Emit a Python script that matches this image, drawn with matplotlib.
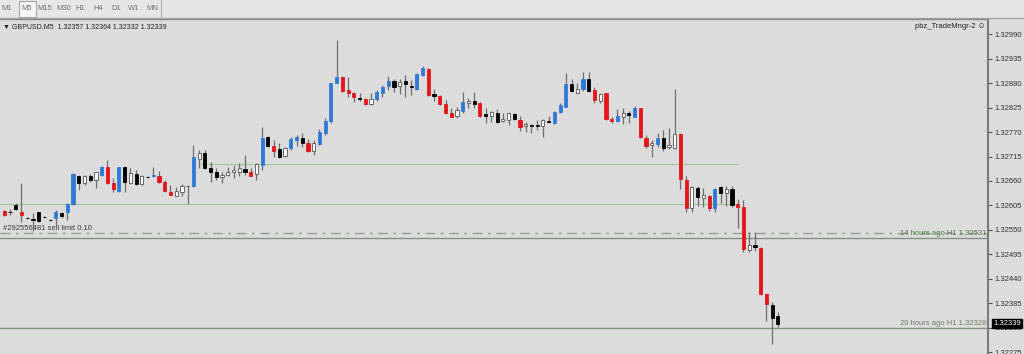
import numpy as np
import matplotlib.pyplot as plt
from matplotlib.patches import Rectangle

# GBPUSD M5 candles, prices in points (1.32593 -> 132593)
open_pts = [
    132593, 132591, 132606, 132589, 132576, 132574, 132590, 132579, 132572, 132577,
    132587, 132591, 132608, 132670, 132655, 132670, 132661, 132673, 132691, 132655,
    132638, 132692, 132656, 132675, 132653, 132668, 132670, 132670, 132658, 132636,
    132627, 132636, 132648, 132649, 132709, 132724, 132690, 132681, 132668, 132673,
    132679, 132681, 132686, 132679, 132675, 132696, 132758, 132739, 132732, 132716,
    132734, 132752, 132757, 132745, 132728, 132743, 132767, 132795, 132880, 132895,
    132865, 132859, 132847, 132844, 132833, 132844, 132859, 132874, 132886, 132874,
    132884, 132874, 132867, 132898, 132912, 132855, 132852, 132833, 132812, 132806,
    132817, 132835, 132840, 132836, 132811, 132806, 132812, 132796, 132797, 132811,
    132797, 132784, 132786, 132786, 132784, 132795, 132790, 132816, 132827, 132878,
    132859, 132866, 132889, 132865, 132840, 132857, 132799, 132796, 132803, 132812,
    132805, 132824, 132757, 132741, 132743, 132757, 132737, 132734, 132766, 132662,
    132598, 132645, 132622, 132626, 132598, 132646, 132632, 132641, 132608, 132602,
    132505, 132516, 132510, 132405, 132381, 132357]
high_pts = [
    132595, 132596, 132611, 132655, 132578, 132587, 132591, 132581, 132574, 132595,
    132591, 132610, 132677, 132673, 132673, 132675, 132681, 132694, 132706, 132666,
    132692, 132694, 132689, 132685, 132673, 132670, 132692, 132683, 132661, 132651,
    132647, 132653, 132651, 132741, 132730, 132730, 132703, 132689, 132681, 132692,
    132696, 132700, 132718, 132689, 132700, 132781, 132761, 132752, 132746, 132737,
    132758, 132763, 132769, 132754, 132752, 132776, 132801, 132881, 132977, 132896,
    132893, 132861, 132857, 132846, 132857, 132865, 132876, 132896, 132889, 132889,
    132898, 132887, 132904, 132919, 132914, 132866, 132853, 132842, 132824, 132827,
    132861, 132846, 132860, 132838, 132824, 132818, 132821, 132814, 132816, 132814,
    132806, 132793, 132788, 132797, 132799, 132806, 132817, 132835, 132902, 132889,
    132880, 132906, 132905, 132872, 132859, 132859, 132805, 132821, 132824, 132818,
    132829, 132825, 132763, 132752, 132767, 132775, 132780, 132868, 132767, 132670,
    132649, 132649, 132643, 132628, 132645, 132649, 132649, 132649, 132619, 132617,
    132546, 132546, 132512, 132407, 132388, 132364]
low_pts = [
    132582, 132583, 132595, 132568, 132574, 132547, 132568, 132577, 132570, 132561,
    132576, 132571, 132606, 132640, 132651, 132658, 132645, 132670, 132653, 132634,
    132636, 132636, 132653, 132651, 132651, 132666, 132668, 132655, 132636, 132628,
    132625, 132625, 132608, 132647, 132689, 132687, 132658, 132662, 132655, 132670,
    132666, 132670, 132673, 132670, 132662, 132685, 132736, 132713, 132711, 132713,
    132730, 132739, 132737, 132726, 132718, 132741, 132763, 132790, 132880, 132861,
    132850, 132838, 132841, 132831, 132831, 132841, 132850, 132865, 132861, 132856,
    132850, 132853, 132865, 132896, 132851, 132841, 132831, 132811, 132803, 132802,
    132814, 132824, 132824, 132805, 132790, 132793, 132791, 132793, 132786, 132797,
    132773, 132771, 132767, 132775, 132760, 132791, 132788, 132814, 132826, 132861,
    132857, 132863, 132861, 132835, 132836, 132797, 132790, 132793, 132788, 132791,
    132803, 132756, 132734, 132715, 132737, 132727, 132732, 132731, 132641, 132591,
    132589, 132604, 132602, 132592, 132591, 132610, 132604, 132602, 132554, 132499,
    132499, 132503, 132403, 132345, 132293, 132332]
close_pts = [
    132583, 132590, 132597, 132584, 132576, 132573, 132570, 132579, 132572, 132591,
    132581, 132608, 132676, 132656, 132670, 132661, 132679, 132691, 132655, 132641,
    132691, 132658, 132677, 132653, 132670, 132668, 132673, 132658, 132638, 132628,
    132638, 132649, 132649, 132713, 132722, 132689, 132681, 132668, 132673, 132680,
    132685, 132689, 132679, 132672, 132698, 132756, 132739, 132728, 132715, 132734,
    132754, 132758, 132746, 132728, 132746, 132770, 132795, 132880, 132895, 132863,
    132857, 132850, 132845, 132833, 132844, 132861, 132872, 132886, 132872, 132883,
    132878, 132871, 132900, 132914, 132853, 132852, 132833, 132812, 132805, 132820,
    132838, 132841, 132833, 132806, 132807, 132816, 132793, 132799, 132812, 132799,
    132781, 132788, 132784, 132784, 132797, 132792, 132816, 132831, 132878, 132863,
    132866, 132889, 132863, 132842, 132855, 132799, 132796, 132806, 132814, 132809,
    132824, 132758, 132739, 132746, 132756, 132735, 132742, 132766, 132664, 132598,
    132646, 132623, 132628, 132598, 132642, 132632, 132641, 132606, 132601, 132506,
    132516, 132511, 132405, 132383, 132352, 132339]
# w = white bull, k = black bear, b = blue bull, r = red bear
candle_kind = list("rkkrkkkkkb" "kbbkwkwbrr" "bkwkwkbrrr" "wwwbwkkkww" "wwkrwbkrkw"
                   "bbkrwbbbbr" "rrkrwbbbkw" "kkbbrkrrrw" "bwkrkwkwwk" "rwkkwkbbbk"
                   "wbkrwrrbwk" "brrwbkwwrr" "wkwrbkwkrr" "wkrrkk")

price_ticks = [1.32990, 1.32935, 1.32880, 1.32825, 1.32770, 1.32715, 1.32660,
               1.32605, 1.32550, 1.32495, 1.32440, 1.32385, 1.32330, 1.32275]
timeframes = ['M1', 'M5', 'M15', 'M30', 'H1', 'H4', 'D1', 'W1', 'MN']
tf_centers = [7, 27, 45, 64, 80, 98, 116, 134, 152]

upper_level = 1.32698
lower_level = 1.32608
sell_limit = 1.32543
h1_14h = 1.32531
h1_20h = 1.32328

o = np.array(open_pts) / 1e5
h = np.array(high_pts) / 1e5
l = np.array(low_pts) / 1e5
c = np.array(close_pts) / 1e5
x = np.arange(len(o))

W, H = 1024, 354
bg = '#dcdcdc'
fam = ['Liberation Sans', 'DejaVu Sans']

fig = plt.figure(figsize=(10.24, 3.54), dpi=100, facecolor=bg)

# toolbar strip
fig.patches.append(Rectangle((0, 1 - 17 / H), 1, 17 / H, transform=fig.transFigure,
                             fc='#e6e6e6', ec='none', zorder=0))
fig.patches.append(Rectangle((19 / W, 1 - 17 / H), 17 / W, 16 / H, transform=fig.transFigure,
                             fc='#f4f4f4', ec='#a8a8a8', lw=0.8, zorder=1))
fig.add_artist(plt.Line2D([161 / W, 161 / W], [1 - 17 / H, 1], color='#b0b0b0', lw=0.8))
fig.add_artist(plt.Line2D([0, 1], [1 - 17.5 / H] * 2, color='#a0a0a0', lw=0.8))
for tf, cx in zip(timeframes, tf_centers):
    fig.text(cx / W, 1 - 9 / H, tf, ha='center', va='center', fontsize=5.5,
             color='#707070', family=fam)

# main chart
ax = fig.add_axes([0, 0, 988 / W, (H - 19) / H])
ax.set_facecolor(bg)
s = 0.00055 / 24.44
ax.set_ylim(1.32990 - (H - 34.3) * s, 1.32990 + (34.3 - 19) * s)
ax.set_xlim(-4.3 / 5.73, (988 - 4.3) / 5.73)

ax.hlines(upper_level, 34.2, 128, color='#a6c89c', lw=0.9, zorder=1)
ax.hlines(lower_level, -1, 128, color='#a6c89c', lw=0.9, zorder=1)
ax.axhline(sell_limit, color='#93a08f', lw=1.0, ls=(0, (7, 4, 2, 4)), zorder=1)
ax.axhline(h1_14h, color='#859482', lw=1.0, zorder=1)
ax.axhline(h1_20h, color='#859482', lw=1.0, zorder=1)

fills = {'w': '#ffffff', 'k': '#000000', 'b': '#2f7ad6', 'r': '#e3161b'}
edges = {'w': '#555555', 'k': '#000000', 'b': '#2f7ad6', 'r': '#e3161b'}
ax.vlines(x, l, h, color='#6e6e6e', lw=0.9, zorder=2)
ax.bar(x, np.maximum(np.abs(c - o), 0.000003), bottom=np.minimum(o, c), width=0.55,
       color=[fills[k] for k in candle_kind], edgecolor=[edges[k] for k in candle_kind],
       linewidth=0.6, zorder=3)

# order and level labels
ax.annotate('#292556481 sell limit 0.10', xy=(0.003, sell_limit), xycoords=('axes fraction', 'data'),
            xytext=(0, 1), textcoords='offset points', va='bottom', ha='left',
            fontsize=5.5, color='#3c3c3c', family=fam)
ax.annotate('14 hours ago H1 1.32531', xy=(0.998, h1_14h), xycoords=('axes fraction', 'data'),
            xytext=(0, 1), textcoords='offset points', va='bottom', ha='right',
            fontsize=5.5, color='#4f7a4a', family=fam)
ax.annotate('20 hours ago H1 1.32328', xy=(0.998, h1_20h), xycoords=('axes fraction', 'data'),
            xytext=(0, 1), textcoords='offset points', va='bottom', ha='right',
            fontsize=5.5, color='#6d7f69', family=fam)

# price scale
ax.yaxis.tick_right()
ax.set_yticks(price_ticks)
ax.set_yticklabels([f'{p:.5f}' for p in price_ticks], family=fam)
ax.tick_params(axis='y', length=3, width=0.8, color='#505050', labelsize=5.5,
               labelcolor='#333333', pad=2)
ax.set_xticks([])
for side in ['left', 'bottom']:
    ax.spines[side].set_visible(False)
ax.spines['right'].set_color('#7a7a7a')
ax.spines['right'].set_linewidth(1.5)
ax.spines['top'].set_color('#8a8a8a')
ax.spines['top'].set_linewidth(1.0)

ax.annotate(f'{c[-1]:.5f}', xy=(1, c[-1]), xycoords=('axes fraction', 'data'),
            xytext=(4, 0), textcoords='offset points', va='center', ha='left',
            fontsize=5.5, color='white', family=fam, annotation_clip=False, zorder=10,
            bbox=dict(boxstyle='square,pad=0.15', fc='black', ec='black'))

# header
fig.text(3 / W, 1 - 27 / H, '\u25bc GBPUSD,M5  1.32357 1.32364 1.32332 1.32339',
         ha='left', va='center', fontsize=5, color='#222222', family=fam)
fig.text(985 / W, 1 - 27 / H, 'pbz_TradeMngr-2 \u263a', ha='right', va='center',
         fontsize=5.5, color='#222222', family=fam)

fig.savefig('out.png', dpi=100, facecolor=bg)
